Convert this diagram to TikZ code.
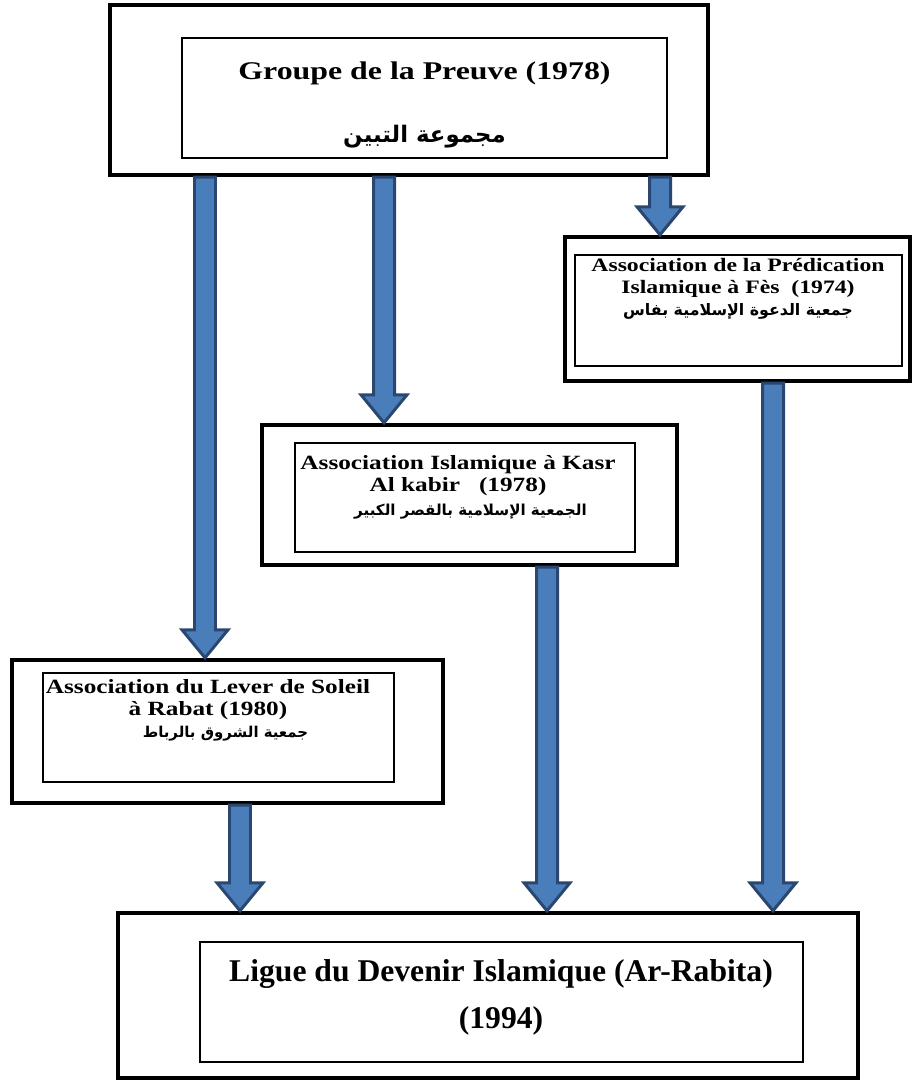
\documentclass[tikz,border=0pt]{standalone}
\usepackage{fontspec}
\usetikzlibrary{calc}
\TeXXeTstate=1
\newfontfamily\boxfont[FakeStretch=1.25]{Liberation Serif}
\newfontfamily\plainfont{Liberation Serif}
\newfontfamily\arabicfont[Script=Arabic]{DejaVu Sans}
\definecolor{arrowblue}{HTML}{4A7EBB}
\definecolor{arrowedge}{HTML}{2B4770}

% block arrow going straight down from #1 to the height of #2
\newcommand{\flowarrow}[2]{%
  \path[flow] let \p1=(#1), \p2=(#2) in
    (\x1-2.1mm,\y1) -- (\x1-2.1mm,\y2+5.6mm) -- (\x1-4.6mm,\y2+5.6mm) -- (\x1,\y2)
    -- (\x1+4.6mm,\y2+5.6mm) -- (\x1+2.1mm,\y2+5.6mm) -- (\x1+2.1mm,\y1) -- cycle;}

\begin{document}
\begin{tikzpicture}[
  frame/.style={draw, line width=2.5pt, inner sep=0pt},
  panel/.style={draw, line width=0.8pt, inner sep=0pt},
  bigtext/.style={align=center, inner sep=0pt, font=\boxfont\bfseries\fontsize{14.5}{18}\selectfont},
  smalltext/.style={align=center, inner sep=0pt, font=\boxfont\bfseries\fontsize{11.5}{12.5}\selectfont},
  flow/.style={draw=arrowedge, fill=arrowblue, line width=1.7pt, line join=miter}
]
\useasboundingbox (0,0) rectangle (18.26,-21.6);

% boxes
\node[frame, minimum width=11.96cm, minimum height=3.40cm] (groupe) at (8.18,-1.80) {};
\node[panel, minimum width=9.70cm, minimum height=2.40cm] (groupein) at (8.49,-1.96) {};
\node[bigtext] (groupetxt) at (8.49,-2.10) {Groupe de la Preuve (1978)\\[18pt]%
  {\arabicfont\fontsize{13}{18}\selectfont\beginR مجموعة التبين\endR}};

\node[frame, minimum width=6.90cm, minimum height=2.88cm] (fes) at (14.75,-6.18) {};
\node[panel, minimum width=6.54cm, minimum height=2.22cm] (fesin) at (14.77,-6.21) {};
\node[smalltext, font=\boxfont\bfseries\fontsize{10.8}{12.5}\selectfont] (festxt) at (14.76,-5.78)
  {Association de la Prédication\\Islamique à Fès\ \ (1974)\\%
  {\arabicfont\fontsize{9}{12.5}\selectfont\beginR جمعية الدعوة الإسلامية بفاس\endR}};

\node[frame, minimum width=8.30cm, minimum height=2.80cm] (kasr) at (9.39,-9.90) {};
\node[panel, minimum width=6.80cm, minimum height=2.18cm] (kasrin) at (9.30,-9.95) {};
\node[smalltext] (kasrtxt) at (9.16,-9.74)
  {Association Islamique à Kasr\\Al kabir\ \ \ (1978)\\[1pt]%
  {\hspace*{0.5cm}\arabicfont\fontsize{8.6}{12.5}\selectfont\beginR الجمعية الإسلامية بالقصر الكبير\endR}};

\node[frame, minimum width=8.62cm, minimum height=2.86cm] (rabat) at (4.55,-14.63) {};
\node[panel, minimum width=7.02cm, minimum height=2.18cm] (rabatin) at (4.37,-14.55) {};
\node[smalltext] (rabattxt) at (4.16,-14.20)
  {Association du Lever de Soleil\\à Rabat (1980)\\%
  {\hspace*{0.7cm}\arabicfont\fontsize{8.5}{12.5}\selectfont\beginR جمعية الشروق بالرباط\endR}};

\node[frame, minimum width=14.80cm, minimum height=3.30cm] (ligue) at (9.76,-19.91) {};
\node[panel, minimum width=12.06cm, minimum height=2.40cm] (liguein) at (10.03,-20.04) {};
\node[bigtext, font=\plainfont\bfseries\fontsize{18}{22}\selectfont] (liguetxt) at (10.02,-19.95)
  {Ligue du Devenir Islamique (Ar-Rabita)\\[5pt](1994)};

% arrow lanes
\coordinate (lane1) at (4.10,0);
\coordinate (lane2) at (7.68,0);
\coordinate (lane3) at (13.20,0);
\coordinate (lane4) at (4.80,0);
\coordinate (lane5) at (10.94,0);
\coordinate (lane6) at (15.46,0);

\flowarrow{groupe.south -| lane1}{rabat.north}
\flowarrow{groupe.south -| lane2}{kasr.north}
\flowarrow{groupe.south -| lane3}{fes.north}
\flowarrow{rabat.south -| lane4}{ligue.north}
\flowarrow{kasr.south -| lane5}{ligue.north}
\flowarrow{fes.south -| lane6}{ligue.north}
\end{tikzpicture}
\end{document}
